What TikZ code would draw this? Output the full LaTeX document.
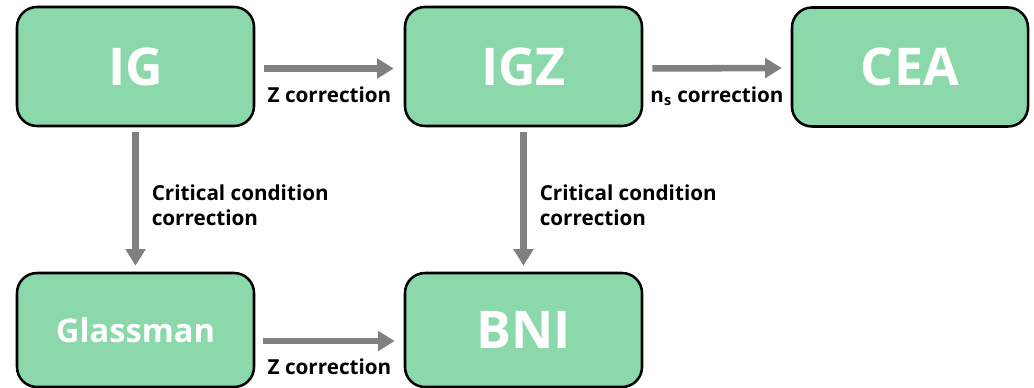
\documentclass[tikz,border=0pt]{standalone}
\usepackage{fontspec}
\setmainfont{Open Sans}
\usetikzlibrary{arrows.meta}
\definecolor{boxgreen}{RGB}{139,217,171}
\definecolor{arrgray}{RGB}{128,128,128}
\tikzset{
  box/.style={draw=black, line width=1.9pt, fill=boxgreen, rounded corners=15pt,
    minimum width=177.75pt, text=white, font=\bfseries\fontsize{39}{40}\selectfont, inner sep=0pt},
  arr/.style={draw=arrgray, line width=4.9pt,
    -{Triangle[length=12.5pt, width=14.5pt]}},
  lbl/.style={font=\bfseries\fontsize{15.5}{18.75}\selectfont, text=black, inner sep=0pt}
}
\begin{document}
\begin{tikzpicture}[x=0.75pt, y=-0.75pt]
\useasboundingbox (0,0) rectangle (1034,388);
\node[box, minimum height=89.25pt] (ig)  at (135.5,66.5) {IG};
\node[box, minimum height=89.25pt] (igz) at (523.5,66.5) {IGZ};
\node[box, minimum height=89.25pt, minimum width=177pt] (cea) at (910,67) {CEA};
\node[box, minimum height=85.5pt, font=\bfseries\fontsize{24.5}{26}\selectfont] (gl) at (135.5,330) {Glassman};
\node[box, minimum height=85.5pt] (bni) at (523.5,330) {BNI};

\draw[arr, shorten <=6.75pt, shorten >=7.5pt] ([yshift=-1.5pt]ig.east) -- ([yshift=-1.5pt]igz.west)
  node[lbl, midway, anchor=base, yshift=-25.5pt] {Z correction};
\draw[arr, shorten <=6.75pt, shorten >=6.75pt] ([yshift=-1.5pt]igz.east) -- ([yshift=-0.75pt]cea.west)
  node[lbl, midway, anchor=base, yshift=-25.5pt] {n\textsubscript{s} correction};
\draw[arr, shorten <=6pt, shorten >=6.75pt] ([yshift=-8.25pt]gl.east) -- ([yshift=-8.25pt]bni.west)
  node[lbl, midway, anchor=base, yshift=-24.75pt] {Z correction};
\draw[arr, shorten <=3.75pt, shorten >=4.5pt] (ig.south) -- (gl.north)
  node[lbl, midway, anchor=west, align=left, xshift=9.75pt, yshift=-4.5pt] {Critical condition\\correction};
\draw[arr, shorten <=3.75pt, shorten >=4.5pt] (igz.south) -- (bni.north)
  node[lbl, midway, anchor=west, align=left, xshift=9.75pt, yshift=-4.5pt] {Critical condition\\correction};
\end{tikzpicture}
\end{document}
